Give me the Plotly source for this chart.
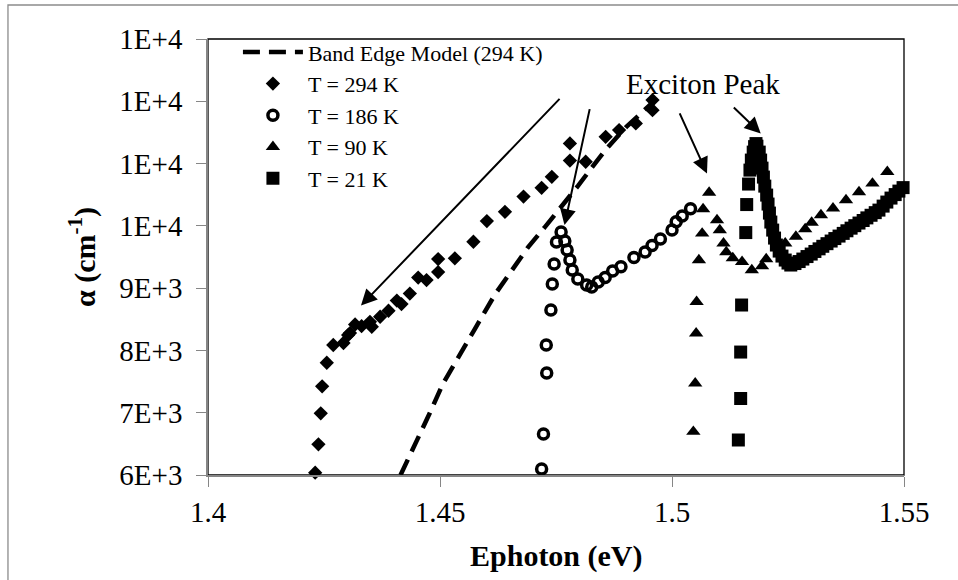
import plotly.graph_objects as go

# ---- Band edge model at 294 K (dashed curve) ----
model_E = [1.4415, 1.4448, 1.4478, 1.4506, 1.4539, 1.4575, 1.4619, 1.4655, 1.4690,
           1.4726, 1.4763, 1.4797, 1.4828, 1.4858, 1.4901, 1.4931, 1.4966]
model_a = [6000, 6514, 6995, 7461, 7894, 8343, 8905, 9290, 9659,
           9980, 10317, 10638, 10943, 11232, 11585, 11794, 12035]

# ---- T = 294 K ----
t294_E = [1.4231, 1.4238, 1.4243, 1.4246, 1.4256, 1.4270, 1.4292, 1.4302, 1.4306, 1.4317,
          1.4331, 1.4349, 1.4353, 1.4371, 1.4389, 1.4407, 1.4417, 1.4435, 1.4453, 1.4471,
          1.4496, 1.4496, 1.4532, 1.4572, 1.4601, 1.4640, 1.4680, 1.4719, 1.4741, 1.4780,
          1.4780, 1.4814, 1.4857, 1.4886, 1.4922, 1.4958, 1.4958]
t294_a = [6037, 6493, 6990, 7424, 7802, 8087, 8119, 8247, 8279, 8416,
          8391, 8460, 8380, 8541, 8637, 8801, 8745, 8913, 9170, 9130,
          9258, 9467, 9478, 9745, 10077, 10226, 10470, 10611, 10788, 11048,
          11324, 11029, 11430, 11537, 11645, 11858, 12019]

# ---- T = 186 K ----
t186_E = [1.4719, 1.4723, 1.4730, 1.4729, 1.4739, 1.4742, 1.4746, 1.4751, 1.4761, 1.4769,
          1.4774, 1.4780, 1.4785, 1.4797, 1.4816, 1.4827, 1.4841, 1.4856, 1.4872, 1.4890,
          1.4918, 1.4942, 1.4957, 1.4975, 1.5000, 1.5009, 1.5022, 1.5040]
t186_a = [6096, 6658, 7637, 8087, 8648, 9066, 9387, 9740, 9900, 9756,
          9611, 9451, 9290, 9146, 9050, 9017, 9098, 9170, 9274, 9343,
          9491, 9579, 9683, 9788, 9932, 10065, 10157, 10273]

# ---- T = 90 K ----
t90_E = [1.5046, 1.5050, 1.5052, 1.5053, 1.5058, 1.5065, 1.5067, 1.5080, 1.5097, 1.5103,
         1.5111, 1.5117, 1.5131, 1.5151, 1.5172, 1.5194, 1.5203, 1.5244, 1.5267, 1.5287,
         1.5301, 1.5321, 1.5347, 1.5375, 1.5403, 1.5432, 1.5464]
t90_a = [6695, 7472, 8274, 8781, 9451, 9879, 10269, 10534, 10093, 9932,
         9719, 9579, 9483, 9423, 9290, 9354, 9467, 9719, 9828, 9948,
         10053, 10173, 10281, 10414, 10542, 10682, 10868]

# ---- T = 21 K ----
t21_E = [1.5143, 1.5148, 1.5148, 1.5150, 1.5159, 1.5161, 1.5165, 1.5168, 1.5171, 1.5175,
         1.5178, 1.5181, 1.5183, 1.5188, 1.5191, 1.5194, 1.5197, 1.5200, 1.5204, 1.5207,
         1.5210, 1.5213, 1.5217, 1.5221, 1.5225, 1.5231, 1.5237, 1.5244, 1.5250, 1.5256,
         1.5265, 1.5274, 1.5282, 1.5291, 1.5300, 1.5308, 1.5317, 1.5325, 1.5334, 1.5343,
         1.5351, 1.5360, 1.5369, 1.5377, 1.5386, 1.5394, 1.5403, 1.5412, 1.5420, 1.5429,
         1.5438, 1.5446, 1.5455, 1.5463, 1.5472, 1.5481, 1.5489, 1.5498, 1.5504]
t21_a = [6562, 7228, 7974, 8729, 9892, 10342, 10671, 10895, 11056, 11184,
         11272, 11321, 11280, 11184, 11056, 10927, 10783, 10638, 10494, 10350,
         10205, 10061, 9932, 9804, 9692, 9595, 9515, 9451, 9403, 9371,
         9395, 9427, 9467, 9507, 9547, 9589, 9631, 9672, 9714, 9756,
         9796, 9836, 9879, 9921, 9963, 10003, 10045, 10086, 10128, 10170,
         10212, 10253, 10317, 10382, 10446, 10502, 10558, 10614, 10646]

# ---- axis ticks ----
x_ticks = [1.4, 1.45, 1.5, 1.55]
x_labels = ["1.4", "1.45", "1.5", "1.55"]
y_ticks = [6000, 7000, 8000, 9000, 10000, 11000, 12000, 13000]
y_labels = ["6E+3", "7E+3", "8E+3", "9E+3", "1E+4", "1E+4", "1E+4", "1E+4"]

# ---- pointer arrows: (head E, head alpha, tail E, tail alpha) ----
arrows = [
    (1.43297, 8720, 1.47608, 12062),
    (1.47683, 10012, 1.48233, 11898),
    (1.50754, 10842, 1.50151, 11831),
    (1.51912, 11484, 1.51300, 11922),
]

SERIF = "Liberation Serif"
GRAY = "#868686"

fig = go.Figure()
fig.add_trace(go.Scatter(x=model_E, y=model_a, mode="lines", name="Band Edge Model (294 K)",
                         line=dict(color="black", width=4.5, dash="17px,9px")))
fig.add_trace(go.Scatter(x=t294_E, y=t294_a, mode="markers", name="T = 294 K",
                         marker=dict(symbol="diamond", size=11, color="black")))
fig.add_trace(go.Scatter(x=t186_E, y=t186_a, mode="markers", name="T = 186 K",
                         marker=dict(symbol="circle-open", size=10, color="black",
                                     line=dict(width=3.5, color="black"))))
fig.add_trace(go.Scatter(x=t90_E, y=t90_a, mode="markers", name="T = 90 K",
                         marker=dict(symbol="triangle-up", size=12.5, color="black")))
fig.add_trace(go.Scatter(x=t21_E, y=t21_a, mode="markers", name="T = 21 K",
                         marker=dict(symbol="square", size=13, color="black")))
fig.update_traces(cliponaxis=False)

annotations = []
for hx, hy, tx, ty in arrows:
    annotations.append(dict(x=hx, y=hy, ax=tx, ay=ty, xref="x", yref="y", axref="x", ayref="y",
                            text="", showarrow=True, arrowhead=2, arrowsize=1.6,
                            arrowwidth=2, arrowcolor="black", standoff=0))
annotations.append(dict(x=1.5066, y=12280, xref="x", yref="y", text="Exciton Peak",
                        showarrow=False, font=dict(family=SERIF, size=29, color="black"),
                        xanchor="center", yanchor="middle"))
annotations.append(dict(x=0.5, y=-0.186, xref="paper", yref="paper", text="<b>Ephoton (eV)</b>",
                        showarrow=False, font=dict(family=SERIF, size=30, color="black"),
                        xanchor="center", yanchor="middle"))
annotations.append(dict(x=-0.181, y=0.5, xref="paper", yref="paper",
                        text="<b>α (cm<sup>-1</sup>)</b>", textangle=-90,
                        showarrow=False, font=dict(family=SERIF, size=30, color="black"),
                        xanchor="center", yanchor="middle"))

shapes = [
    # plot-area frame
    dict(type="rect", xref="paper", yref="paper", x0=0, x1=1, y0=0, y1=1,
         line=dict(color="black", width=1.3), layer="below"),
    # outer chart frame
    dict(type="rect", xref="paper", yref="paper", x0=-0.2874, x1=1.2, y0=-0.4, y1=1.078,
         line=dict(color="#8c8c8c", width=1.3), layer="below"),
]

fig.update_layout(
    width=958, height=580,
    margin=dict(l=208, r=54, t=39, b=105),
    paper_bgcolor="white", plot_bgcolor="white",
    font=dict(family=SERIF, color="black"),
    showlegend=True,
    legend=dict(x=0.043, y=1.018, xanchor="left", yanchor="top",
                font=dict(family=SERIF, size=22, color="black"),
                itemwidth=60, bgcolor="rgba(0,0,0,0)"),
    annotations=annotations,
    shapes=shapes,
)
fig.update_xaxes(range=[1.4, 1.55], tickvals=x_ticks, ticktext=x_labels,
                 showgrid=False, zeroline=False, showline=True, linecolor=GRAY, linewidth=1.5,
                 ticks="outside", ticklen=10, tickwidth=1.3, tickcolor=GRAY,
                 tickfont=dict(family=SERIF, size=29, color="black"))
fig.update_yaxes(range=[6000, 13000], tickvals=y_ticks, ticktext=y_labels,
                 showgrid=False, zeroline=False, showline=True, linecolor=GRAY, linewidth=1.5,
                 ticks="outside", ticklen=10, tickwidth=1.3, tickcolor=GRAY,
                 ticklabelstandoff=8,
                 tickfont=dict(family=SERIF, size=29, color="black"))

fig.write_html("out.html")
